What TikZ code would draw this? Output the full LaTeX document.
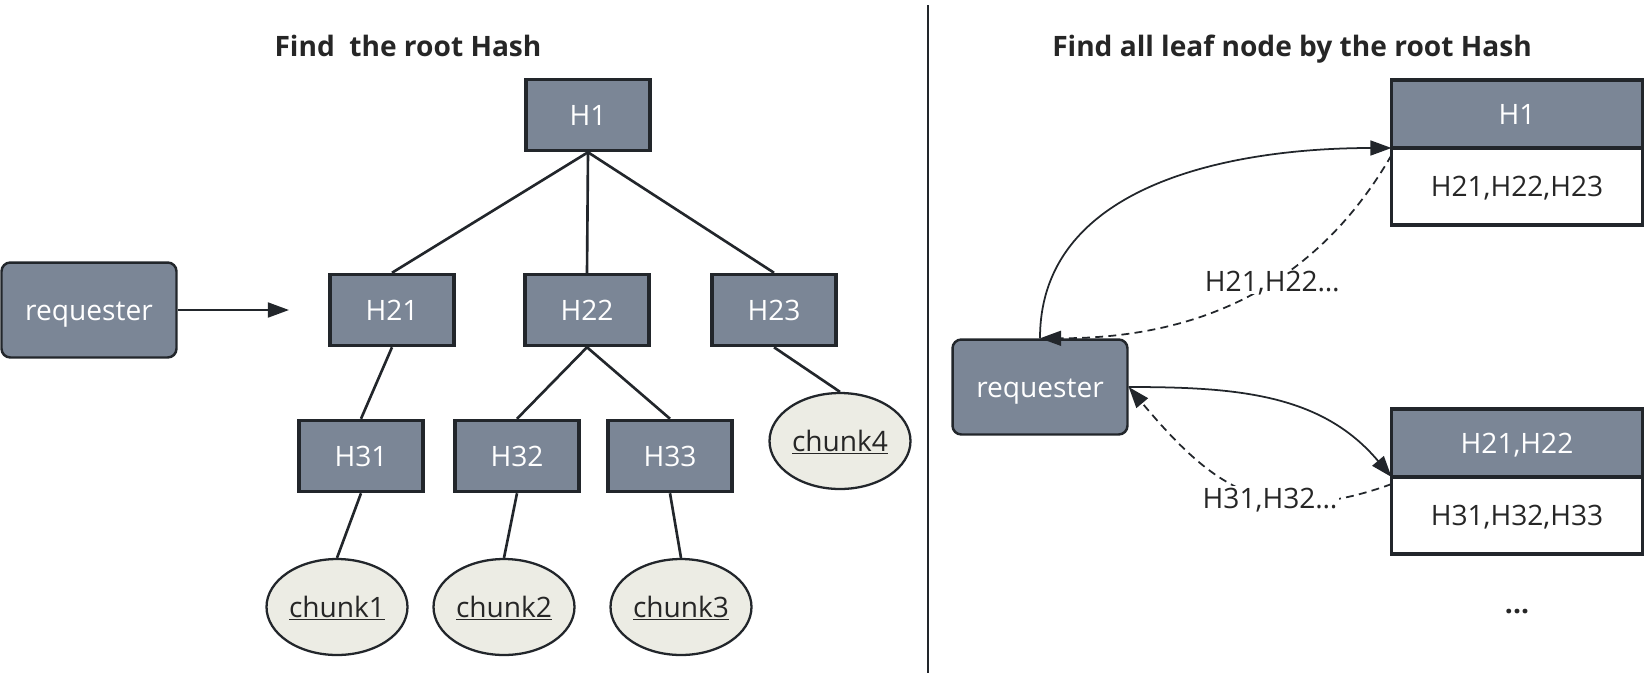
\documentclass[tikz,border=0pt]{standalone}
\usepackage{fontspec}
\setmainfont{Open Sans}
\usetikzlibrary{arrows.meta,shapes.geometric,positioning}

\definecolor{slate}{HTML}{7B8696}
\definecolor{edge}{HTML}{22262B}
\definecolor{leaf}{HTML}{ECECE4}
\definecolor{ink}{HTML}{262626}

\tikzset{
	label font/.style={font=\fontsize{16}{19}\selectfont,text height=11.4pt,text depth=0pt},
	hashbox/.style={label font,draw=edge,line width=2pt,fill=slate,text=white,minimum width=2.48cm,minimum height=1.42cm,inner sep=0pt},
	leafnode/.style={label font,ellipse,draw=edge,line width=1.3pt,fill=leaf,text=ink,minimum width=2.82cm,minimum height=1.92cm,inner sep=0pt},
	reqbox/.style={label font,draw=edge,line width=1.4pt,rounded corners=5pt,fill=slate,text=white,minimum width=3.5cm,minimum height=1.9cm,inner sep=0pt},
	tabhead/.style={label font,draw=edge,line width=2pt,fill=slate,text=white,minimum width=5.02cm,minimum height=1.36cm,inner sep=0pt,outer sep=0pt},
	tabbody/.style={label font,draw=edge,line width=2pt,fill=white,text=ink,minimum width=5.02cm,minimum height=1.54cm,inner sep=0pt,outer sep=0pt},
	treeline/.style={draw=edge,line width=1.5pt},
	flow/.style={draw=edge,line width=1pt,-{Triangle[length=12pt,width=8.5pt]}},
	reply/.style={flow,dash pattern=on 4.5pt off 3pt},
	msg/.style={label font,fill=white,text=ink,inner sep=1pt},
	heading/.style={font=\bfseries\fontsize{16}{19}\selectfont,text=ink,anchor=base}
}

\begin{document}
\begin{tikzpicture}[x=0.02cm,y=-0.02cm]
			\useasboundingbox (0,0) rectangle (1650,681);

			\node[heading] (titleL) at (408,56) {Find\ \ the root Hash};
			\node[heading] (titleR) at (1292,56) {Find all leaf node by the root Hash};
			\draw[draw=edge,line width=1.5pt] (928,5) -- (928,673);

			% left: the tree
			\foreach \name/\x/\y in {H1/588/115, H21/392/310, H22/587/310, H23/774/310, H31/361/456, H32/517/456, H33/670/456} {
				\node[hashbox] (\name) at (\x,\y) {\name};
			};
			\foreach \name/\x/\y in {chunk1/337/607, chunk2/504/607, chunk3/681/607, chunk4/840/441} {
				\node[leafnode] (\name) at (\x,\y) {\underline{\name}};
			};
			\foreach \a/\b in {H1/H21, H1/H22, H1/H23, H21/H31, H22/H32, H22/H33, H31/chunk1, H32/chunk2, H33/chunk3, H23/chunk4} {
				\draw[treeline] (\a.south) -- (\b.north);
			};
			\node[reqbox] (reqL) at (89,310) {requester};
			\coordinate (askL) at (289,310);
			\draw[flow,line width=1.2pt] (reqL.east) -- (askL);

			% right: lookup by the root hash
			\node[reqbox] (reqR) at (1040,387) {requester};
			\node[tabhead] (tab1head) at (1517,114) {H1};
			\node[tabbody,below=0pt of tab1head] (tab1body) {H21,H22,H23};
			\node[tabhead] (tab2head) at (1517,443) {H21,H22};
			\node[tabbody,below=0pt of tab2head] (tab2body) {H31,H32,H33};
			\node[font=\bfseries\fontsize{16}{19}\selectfont,text=ink] (more) at (1517,612) {...};

			\draw[flow] (reqR.north) to[out=90,in=180] (tab1head.south west);
			\draw[reply] ([yshift=-4pt]tab1head.south west) to[out=-120,in=0] node[msg,pos=0.42] {H21,H22…} (reqR.north);
			\draw[flow] (reqR.east) to[out=0,in=130] (tab2head.south west);
			\draw[reply] ([yshift=-4pt]tab2head.south west) to[out=200,in=-50,looseness=1.2] node[msg,pos=0.4] {H31,H32…} (reqR.east);
		\end{tikzpicture}
\end{document}
